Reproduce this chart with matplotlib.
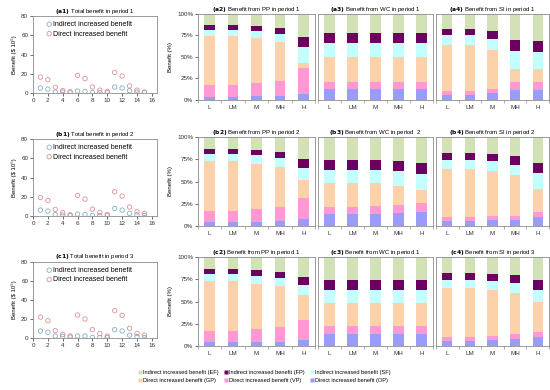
import numpy as np
import matplotlib.pyplot as plt

plt.rcParams['font.family'] = ['Liberation Sans', 'DejaVu Sans']

# scatter data: 15 cases, benefit in $ 10^5
cases = np.arange(1, 16)
indirect_p1 = [5.2, 4.1, 1.0, 1.0, 0.5, 2.0, 1.7, 0.5, 0.5, 0.3, 6.2, 5.2, 2.4, 1.0, 0.5]
direct_p1 = [16.5, 13.8, 5.9, 2.6, 1.4, 18.3, 15.0, 6.2, 3.0, 1.7, 21.4, 17.6, 7.4, 3.0, 1.0]
indirect_p2 = [6.2, 5.2, 1.5, 1.0, 0.5, 2.0, 1.7, 0.7, 0.5, 0.4, 7.9, 6.2, 2.8, 1.2, 0.5]
direct_p2 = [19.3, 16.2, 6.9, 3.4, 1.4, 21.4, 17.6, 7.2, 3.8, 1.7, 25.2, 20.7, 9.4, 4.4, 2.8]
indirect_p3 = [7.4, 6.0, 2.1, 1.8, 1.0, 2.1, 2.1, 0.7, 0.5, 0.5, 8.8, 7.4, 3.0, 1.5, 0.5]
direct_p3 = [22.0, 18.2, 7.7, 3.9, 2.1, 24.2, 20.0, 8.8, 4.6, 2.1, 28.8, 23.9, 10.2, 4.8, 3.0]

# stacked bar shares (%), per level: OP, VP, GP, SF, FP, EF
levels = ['L', 'LM', 'M', 'MH', 'H']
series = ['OP', 'VP', 'GP', 'SF', 'FP', 'EF']
pp_p1 = [[4, 14, 56, 7, 6, 13], [4, 14, 56, 7, 6, 13], [4.5, 15, 52.5, 8, 6, 14],
         [5, 17.5, 44.5, 10, 7, 16], [7, 30, 6, 18.5, 11.5, 27]]
wc_p1 = [[12.5, 9, 28.5, 16, 12, 22]] * 5
si_p1 = [[5.5, 5.5, 53, 11, 8, 17], [5.5, 5.5, 53, 11, 8, 17], [8, 5, 44.6, 13.4, 9, 20],
         [11.7, 9.7, 14.6, 20.4, 13.6, 30], [11.7, 9.7, 14.6, 19.6, 13.4, 31]]
pp_p2 = [[4, 13, 56, 8, 5.5, 13.5], [4, 13, 56, 8, 5.5, 13.5], [5, 14, 51, 9.5, 5.5, 15],
         [5.6, 16, 44.8, 10.1, 6.5, 17], [7.5, 24.5, 19.5, 13.8, 10.4, 24.3]]
wc_p2 = [[13, 8.6, 26.9, 14.9, 11.2, 25.4], [13, 8.6, 26.9, 14.9, 11.2, 25.4],
         [13.8, 9, 25, 14.9, 11.3, 26], [15, 9, 21, 16.6, 11.4, 27], [16, 10, 14.3, 17.7, 13, 29]]
si_p2 = [[5.6, 4.1, 54.1, 10.8, 7.4, 18], [5.6, 4.1, 54.1, 10.8, 7.4, 18],
         [6.7, 4.3, 51, 11, 8.3, 18.7], [7, 4.6, 45.4, 12, 9.7, 21.3], [10.4, 5.6, 26, 17, 12, 29]]
pp_p3 = [[4, 13, 56, 8, 5.5, 13.5], [4, 13, 56, 8, 5.5, 13.5], [4.5, 14.5, 51, 8.7, 6.3, 15],
         [5, 16, 46.5, 9.4, 6.1, 17], [6.7, 22.3, 28, 12, 9, 22]]
wc_p3 = [[13.4, 9, 26.1, 14.9, 11.2, 25.4]] * 5
si_p3 = [[6, 4.4, 54.9, 9.3, 7.4, 18], [6, 4.4, 54.9, 9.3, 7.4, 18],
         [6.7, 4.9, 51.1, 10.3, 8.3, 18.7], [7.8, 5.2, 46, 11.9, 8.6, 20.5],
         [10.4, 5.6, 33.6, 13.1, 11.3, 26]]

colors = {'OP': '#9b9bfb', 'VP': '#ff99d6', 'GP': '#fdd1aa',
          'SF': '#c4ffff', 'FP': '#6b0060', 'EF': '#d3e2b6'}
legend_names = {'EF': 'Indirect increased benefit (EF)', 'FP': 'Indirect increased benefit (FP)',
                'SF': 'Indirect increased benefit (SF)', 'GP': 'Direct increased benefit (GP)',
                'VP': 'Direct increased benefit (VP)', 'OP': 'Direct increased benefit (OP)'}

fig = plt.figure(figsize=(5.5, 3.9), dpi=100)
frame_col = '#8c8c8c'


def style_frame(ax):
    for s in ax.spines.values():
        s.set_color(frame_col)
        s.set_linewidth(0.6)
    ax.tick_params(colors='#333333', labelsize=4.5, length=2, width=0.5, pad=1.5)


def title(ax, tag, text):
    ax.set_title(r'$\bf{(' + tag + r')}$ ' + text, fontsize=4.3, pad=2.5)


def scatter_panel(rect, ind, dirc, tag, text):
    ax = fig.add_axes(rect)
    ax.scatter(cases, ind, s=10, facecolors='none', edgecolors='#86aec6', linewidths=0.6,
               label='Indirect increased benefit')
    ax.scatter(cases, dirc, s=10, facecolors='none', edgecolors='#de9098', linewidths=0.6,
               label='Direct increased benefit')
    ax.set_xlim(0, 16.7)
    ax.set_ylim(0, 80)
    ax.set_xticks(range(0, 17, 2))
    ax.set_yticks(range(0, 81, 20))
    style_frame(ax)
    ax.set_ylabel('Benefit ($ 10⁵)', fontsize=4.3, labelpad=3)
    title(ax, tag, text)
    ax.legend(loc='upper left', bbox_to_anchor=(0.08, 0.97), frameon=False, fontsize=5,
              handletextpad=0.05, labelspacing=0.35, handlelength=1, borderaxespad=0)
    return ax


def bar_panel(rect, data, tag, text, first):
    ax = fig.add_axes(rect)
    data = np.array(data)
    x = np.arange(len(levels))
    bottom = np.zeros(len(levels))
    for i, s in enumerate(series):
        ax.bar(x, data[:, i], width=0.45, bottom=bottom, color=colors[s], edgecolor='none')
        bottom += data[:, i]
    ax.set_xlim(-0.5, 4.5)
    ax.set_ylim(0, 100)
    ax.set_xticks(x)
    ax.set_xticklabels(levels)
    ax.set_xticks(np.arange(-0.5, 5, 1), minor=True)
    style_frame(ax)
    ax.tick_params(axis='x', which='major', length=0, pad=3.5)
    ax.tick_params(axis='x', which='minor', length=2, width=0.5, color=frame_col)
    ax.set_yticks([0, 25, 50, 75, 100])
    if first:
        ax.set_yticklabels(['0%', '25%', '50%', '75%', '100%'])
        ax.set_ylabel('Benefit (%)', fontsize=4.3, labelpad=3)
    else:
        ax.set_yticklabels([])
        ax.tick_params(axis='y', length=0)
    title(ax, tag, text)
    return ax


rows = [(0.7615, 0.1975, 0.7436, 0.2205), (0.446, 0.1975, 0.4205, 0.2282),
        (0.1333, 0.195, 0.1128, 0.2282)]
cols = [(0.36, 0.2127), (0.5782, 0.209), (0.7927, 0.2055)]

scatter_data = [(indirect_p1, direct_p1, 'a1', 'Total benefit in period 1'),
                (indirect_p2, direct_p2, 'b1', 'Total benefit in period 2'),
                (indirect_p3, direct_p3, 'c1', 'Total benefit in period 3')]
bar_data = [[(pp_p1, 'a2', 'Benefit from PP in period 1'), (wc_p1, 'a3', 'Benefit from WC in period 1'),
             (si_p1, 'a4', 'Benefit from SI in period 1')],
            [(pp_p2, 'b2', 'Benefit from PP in period 2'), (wc_p2, 'b3', 'Benefit from WC in period  2'),
             (si_p2, 'b4', 'Benefit from SI in period 2')],
            [(pp_p3, 'c2', 'Benefit from PP in period 1'), (wc_p3, 'c3', 'Benefit from WC in period 1'),
             (si_p3, 'c4', 'Benefit from SI in period 3')]]

for r, (sb, sh, bb, bh) in enumerate(rows):
    ind, dirc, tag, text = scatter_data[r]
    scatter_panel([0.06, sb, 0.2255, sh], ind, dirc, tag, text)
    for c, (cl, cw) in enumerate(cols):
        d, tag, text = bar_data[r][c]
        bar_panel([cl, bb, cw, bh], d, tag, text, c == 0)

order = ['EF', 'GP', 'FP', 'VP', 'SF', 'OP']
handles = [plt.Line2D([], [], marker='s', linestyle='none', markersize=2.5,
                      markerfacecolor=colors[k], markeredgecolor='none') for k in order]
fig.legend(handles, [legend_names[k] for k in order], loc='center', bbox_to_anchor=(0.48, 0.035),
           ncol=3, frameon=False, fontsize=4.1, handletextpad=0.1, columnspacing=0.9,
           labelspacing=0.45, handlelength=0.8)

fig.savefig('out.png', dpi=100)
